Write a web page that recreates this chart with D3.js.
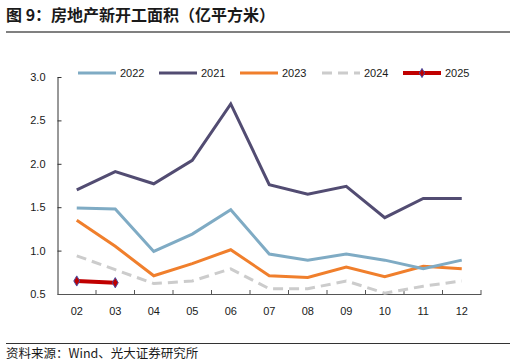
<!DOCTYPE html>
<html>
<head>
<meta charset="utf-8">
<script src="https://cdn.jsdelivr.net/npm/d3@7/dist/d3.min.js"></script>
<style>
html,body{margin:0;padding:0;background:#fff;}
svg{display:block;}
</style>
</head>
<body>
<svg id="chart" width="516" height="364"></svg>
<script>
const months = ["02","03","04","05","06","07","08","09","10","11","12"];
const yTicks = [0.5,1.0,1.5,2.0,2.5,3.0];
const s2022 = [1.49,1.48,0.99,1.19,1.47,0.96,0.89,0.96,0.89,0.79,0.89];
const s2021 = [1.70,1.91,1.77,2.04,2.69,1.76,1.65,1.74,1.38,1.60,1.60];
const s2023 = [1.35,1.05,0.71,0.85,1.01,0.71,0.69,0.81,0.70,0.82,0.79];
const s2024 = [0.94,0.78,0.62,0.65,0.79,0.56,0.56,0.65,0.51,0.59,0.65];
const s2025 = [0.65,0.63];
const seriesNames = ["2022","2021","2023","2024","2025"];
const seriesColors = ["#7fabc4","#524c72","#f07f2c","#cccccc","#c00000"];
const seriesData = [s2022,s2021,s2023,s2024,s2025];

const svg = d3.select("#chart");
const font = "Liberation Sans, Arial, sans-serif";
const cjk = "Noto Sans CJK SC, sans-serif";

// title
svg.append("text").attr("x",6).attr("y",21)
  .attr("font-family",cjk).attr("font-weight","bold").attr("font-size",16)
  .attr("fill","#1a1a1a").text("图 9：房地产新开工面积（亿平方米）");
svg.append("line").attr("x1",6).attr("x2",510).attr("y1",32).attr("y2",32)
  .attr("stroke","#808080").attr("stroke-width",1.8);

// footer
svg.append("line").attr("x1",6).attr("x2",510).attr("y1",343.5).attr("y2",343.5)
  .attr("stroke","#333").attr("stroke-width",1.2);
svg.append("text").attr("x",6).attr("y",358)
  .attr("font-family",cjk).attr("font-size",12.5)
  .attr("fill","#1a1a1a").text("资料来源：Wind、光大证券研究所");

const x = d3.scaleBand().domain(months).range([57.5,481]).padding(0);
const y = d3.scaleLinear().domain([0.5,3.0]).range([294,77]);

// y axis (ticks pointing inward)
const yAxis = svg.append("g").attr("transform","translate(57.5,0)")
  .call(d3.axisLeft(y).tickValues(yTicks).tickFormat(d3.format(".1f")).tickSize(-4).tickSizeOuter(0));
yAxis.select(".domain").attr("stroke","#333");
yAxis.selectAll(".tick line").attr("stroke","#333");
yAxis.selectAll(".tick text").attr("font-family",font).attr("font-size",11).attr("fill","#1a1a1a").attr("x",-12);

// x axis
const xAxis = svg.append("g").attr("transform","translate(0,294)")
  .call(d3.axisBottom(x).tickSize(0).tickSizeOuter(0));
xAxis.select(".domain").attr("stroke","#555").attr("stroke-width",1.2);
xAxis.selectAll(".tick text").attr("font-family",font).attr("font-size",11).attr("fill","#1a1a1a").attr("dy","1.6em");
// tick marks at band boundaries
const bounds = months.slice(1).map(m => x(m)).concat([x.range()[1]]);
xAxis.selectAll(".bnd").data(bounds).enter().append("line")
  .attr("x1",d=>d).attr("x2",d=>d).attr("y1",0).attr("y2",-4)
  .attr("stroke","#555");

const cx = m => x(m) + x.bandwidth()/2;
const line = d3.line().x((d,i)=>cx(months[i])).y(d=>y(d));

// draw series: order for overlap
const drawOrder = [3,2,0,1,4];
drawOrder.forEach(k=>{
  const p = svg.append("path").datum(seriesData[k]).attr("d",line)
    .attr("fill","none").attr("stroke",seriesColors[k])
    .attr("stroke-width", k===4 ? 4 : 3).attr("stroke-linejoin","miter");
  if (k===3) p.attr("stroke-dasharray","10,6");
});
// 2025 markers
svg.selectAll(".m25").data(s2025).enter().append("path")
  .attr("d", d3.symbol().type(d3.symbolDiamond).size(30))
  .attr("transform",(d,i)=>`translate(${cx(months[i])},${y(d)})`)
  .attr("fill","#c00000").attr("stroke","#4a4aa0").attr("stroke-width",1);

// legend
const lx = [78,159,240,322,403];
const ly = 73;
seriesNames.forEach((n,k)=>{
  const g = svg.append("g");
  const l = g.append("line").attr("x1",lx[k]).attr("x2",lx[k]+38).attr("y1",ly).attr("y2",ly)
    .attr("stroke",seriesColors[k]).attr("stroke-width", k===4 ? 4 : 3);
  if (k===3) l.attr("stroke-dasharray","10,6");
  if (k===4) g.append("path").attr("d",d3.symbol().type(d3.symbolDiamond).size(24))
    .attr("transform",`translate(${lx[k]+19},${ly})`).attr("fill","#c00000").attr("stroke","#4a4aa0").attr("stroke-width",1);
  g.append("text").attr("x",lx[k]+42).attr("y",ly+4).attr("font-family",font).attr("font-size",11)
    .attr("fill","#1a1a1a").text(n);
});
</script>
</body>
</html>
